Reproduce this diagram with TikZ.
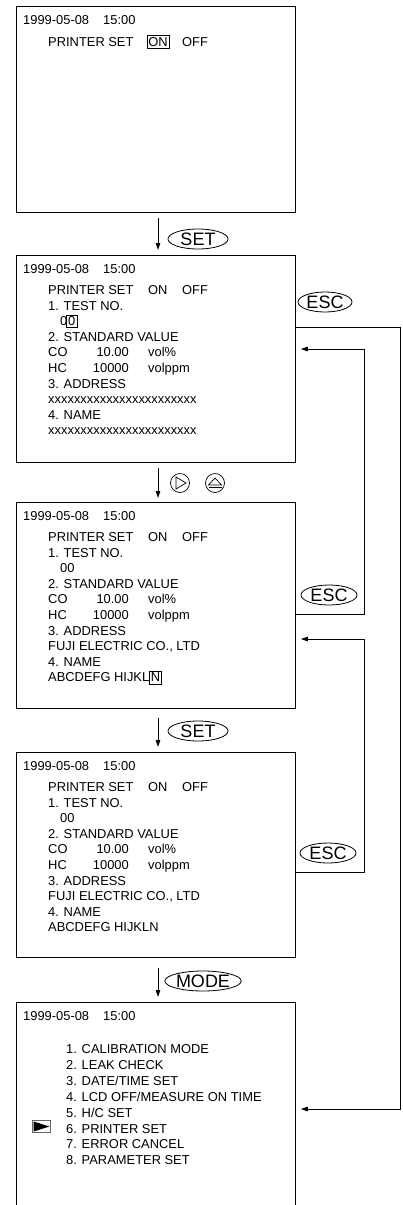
\documentclass[tikz,border=0pt]{standalone}
\usepackage{fontspec}
\setmainfont{Liberation Sans}
\usetikzlibrary{arrows.meta,shapes.geometric}
\begin{document}
\begin{tikzpicture}[x=1pt,y=-1pt,
  screen/.style={draw, line width=0.8pt, rectangle, inner sep=0, anchor=north west, minimum width=278.5pt},
  txt/.style={anchor=base west, inner sep=0, font=\fontsize{12.9}{14}\selectfont},
  txte/.style={anchor=base east, inner sep=0, font=\fontsize{12.9}{14}\selectfont},
  hl/.style={txt, draw, line width=0.7pt, inner xsep=1.5pt, inner ysep=0pt, text height=10.5pt, text depth=2pt},
  key/.style={draw, ellipse, line width=0.8pt, inner sep=0, minimum height=20pt, font=\fontsize{18}{18}\selectfont},
  btn/.style={draw, circle, line width=0.7pt, inner sep=0, minimum size=19pt},
  line/.style={line width=0.8pt},
  arr/.style={line width=0.8pt, -{Triangle[length=7pt,width=4.5pt]}},
]
\useasboundingbox (0,0) rectangle (403,1205);

% screens
\node[screen, minimum height=206pt] (s1) at (16,6) {};
\node[screen, minimum height=207pt] (s2) at (16,255) {};
\node[screen, minimum height=206pt] (s3) at (16,502) {};
\node[screen, minimum height=205pt] (s4) at (16,752) {};
\node[screen, draw=none, minimum height=203pt] (s5) at (16,1002) {};
\draw[line] (s5.south west) -- (s5.north west) -- (s5.north east) -- (s5.south east);

% screen 1
\node[txt] (d1) at (23,24) {1999-05-08};
\node[txt] (h1) at (103,24) {15:00};
\node[txt] (p1) at (48,46) {PRINTER SET};
\node[hl] (on1) at (146.5,46) {ON};
\node[txt] (off1) at (182,46) {OFF};

% screens 2-4 common lines
\foreach \p/\T in {2/255,3/502,4/752} {
  \node[txt] (d\p) at (23,\T+18) {1999-05-08};
  \node[txt] (h\p) at (103,\T+18) {15:00};
  \node[txt] (p\p) at (48,\T+39.5) {PRINTER SET};
  \node[txt] (on\p) at (148,\T+39.5) {ON};
  \node[txt] (off\p) at (182,\T+39.5) {OFF};
  \node[txt] (tn\p) at (48,\T+55.1) {1. TEST NO.};
  \node[txt] (sv\p) at (48,\T+86.3) {2. STANDARD VALUE};
  \node[txt] (co\p) at (48,\T+101.9) {CO};
  \node[txte] (cov\p) at (129,\T+101.9) {10.00};
  \node[txt] (cou\p) at (148,\T+101.9) {vol\%};
  \node[txt] (hc\p) at (48,\T+117.5) {HC};
  \node[txte] (hcv\p) at (129,\T+117.5) {10000};
  \node[txt] (hcu\p) at (148,\T+117.5) {volppm};
  \node[txt] (ad\p) at (48,\T+133.1) {3. ADDRESS};
  \node[txt] (nm\p) at (48,\T+164.3) {4. NAME};
}

% screen 2 specific
\node[txt] (z2) at (60,325.7) {0};
\node[hl, xshift=-1.2pt] (zb2) at (z2.base east) {0};
\node[txt] (ax2) at (48,403.7) {xxxxxxxxxxxxxxxxxxxxxxx};
\node[txt] (nx2) at (48,434.9) {xxxxxxxxxxxxxxxxxxxxxxx};

% screen 3 specific
\node[txt] (z3) at (60,572.7) {00};
\node[txt] (af3) at (48,650.7) {FUJI ELECTRIC CO., LTD};
\node[txt] (na3) at (48,681.9) {ABCDEFG HIJKL};
\node[hl, xshift=-0.5pt] (nb3) at (na3.base east) {N};

% screen 4 specific
\node[txt] (z4) at (60,822.7) {00};
\node[txt] (af4) at (48,900.7) {FUJI ELECTRIC CO., LTD};
\node[txt] (na4) at (48,931.9) {ABCDEFG HIJKLN};

% screen 5
\node[txt] (d5) at (23,1020) {1999-05-08};
\node[txt] (h5) at (103,1020) {15:00};
\node[txt] (m0) at (66,1053.5) {1. CALIBRATION MODE};
\node[txt] (m1) at (66,1069.4) {2. LEAK CHECK};
\node[txt] (m2) at (66,1085.3) {3. DATE/TIME SET};
\node[txt] (m3) at (66,1101.2) {4. LCD OFF/MEASURE ON TIME};
\node[txt] (m4) at (66,1117.1) {5. H/C SET};
\node[txt] (m5) at (66,1133.0) {6. PRINTER SET};
\node[txt] (m6) at (66,1148.9) {7. ERROR CANCEL};
\node[txt] (m7) at (66,1164.8) {8. PARAMETER SET};
\node[draw=black!60, line width=0.7pt, minimum width=18pt, minimum height=12.5pt, inner sep=0] (mk) at (41.5,1126.5) {};
\fill ([xshift=1.5pt,yshift=5pt]mk.west) -- ([xshift=1.5pt,yshift=-5pt]mk.west) -- ([xshift=-1.5pt]mk.east) -- cycle;

% keys
\node[key, minimum width=60pt] (k1) at (198,239) {SET};
\node[btn] (br) at (180,483) {};
\draw[line width=0.7pt] ([shift={(-4,-6)}]br.center) -- ([shift={(-4,6)}]br.center) -- ([shift={(6,0)}]br.center) -- cycle;
\node[btn] (bu) at (215,483) {};
\draw[line width=0.7pt] ([shift={(-6.5,2)}]bu.center) -- ([shift={(6.5,2)}]bu.center) -- ([shift={(0,-5)}]bu.center) -- cycle;
\draw[line width=0.7pt] ([shift={(-6.5,4.5)}]bu.center) -- ([shift={(6.5,4.5)}]bu.center);
\node[key, minimum width=60pt] (k3) at (198,731) {SET};
\node[key, minimum width=68pt] (k4) at (203,981) {MODE};
\node[key, minimum width=54pt] (e2) at (325,302) {ESC};
\node[key, minimum width=56pt] (e3) at (329,595) {ESC};
\node[key, minimum width=56pt] (e4) at (328,853) {ESC};

% flow arrows
\coordinate (a1) at (158,218);
\coordinate (a2) at (158,468);
\coordinate (a3) at (158,718);
\coordinate (a4) at (158,968);
\draw[arr, shorten >=5pt] (a1) -- (a1 |- s2.north);
\draw[arr, shorten >=4pt] (a2) -- (a2 |- s3.north);
\draw[arr, shorten >=5pt] (a3) -- (a3 |- s4.north);
\draw[arr, shorten >=5pt] (a4) -- (a4 |- s5.north);

% ESC return connectors
\coordinate (o1) at (400,327);
\coordinate (o2) at (400,1109);
\draw[arr, shorten >=5.5pt] (s2.east |- o1) -- (o1) -- (o2) -- (s5.east |- o2);
\coordinate (i1) at (364,614);
\coordinate (i2) at (364,349);
\draw[arr, shorten >=5.5pt] (s3.east |- i1) -- (i1) -- (i2) -- (s2.east |- i2);
\coordinate (j1) at (364,872);
\coordinate (j2) at (364,639);
\draw[arr, shorten >=5.5pt] (s4.east |- j1) -- (j1) -- (j2) -- (s3.east |- j2);
\end{tikzpicture}
\end{document}
